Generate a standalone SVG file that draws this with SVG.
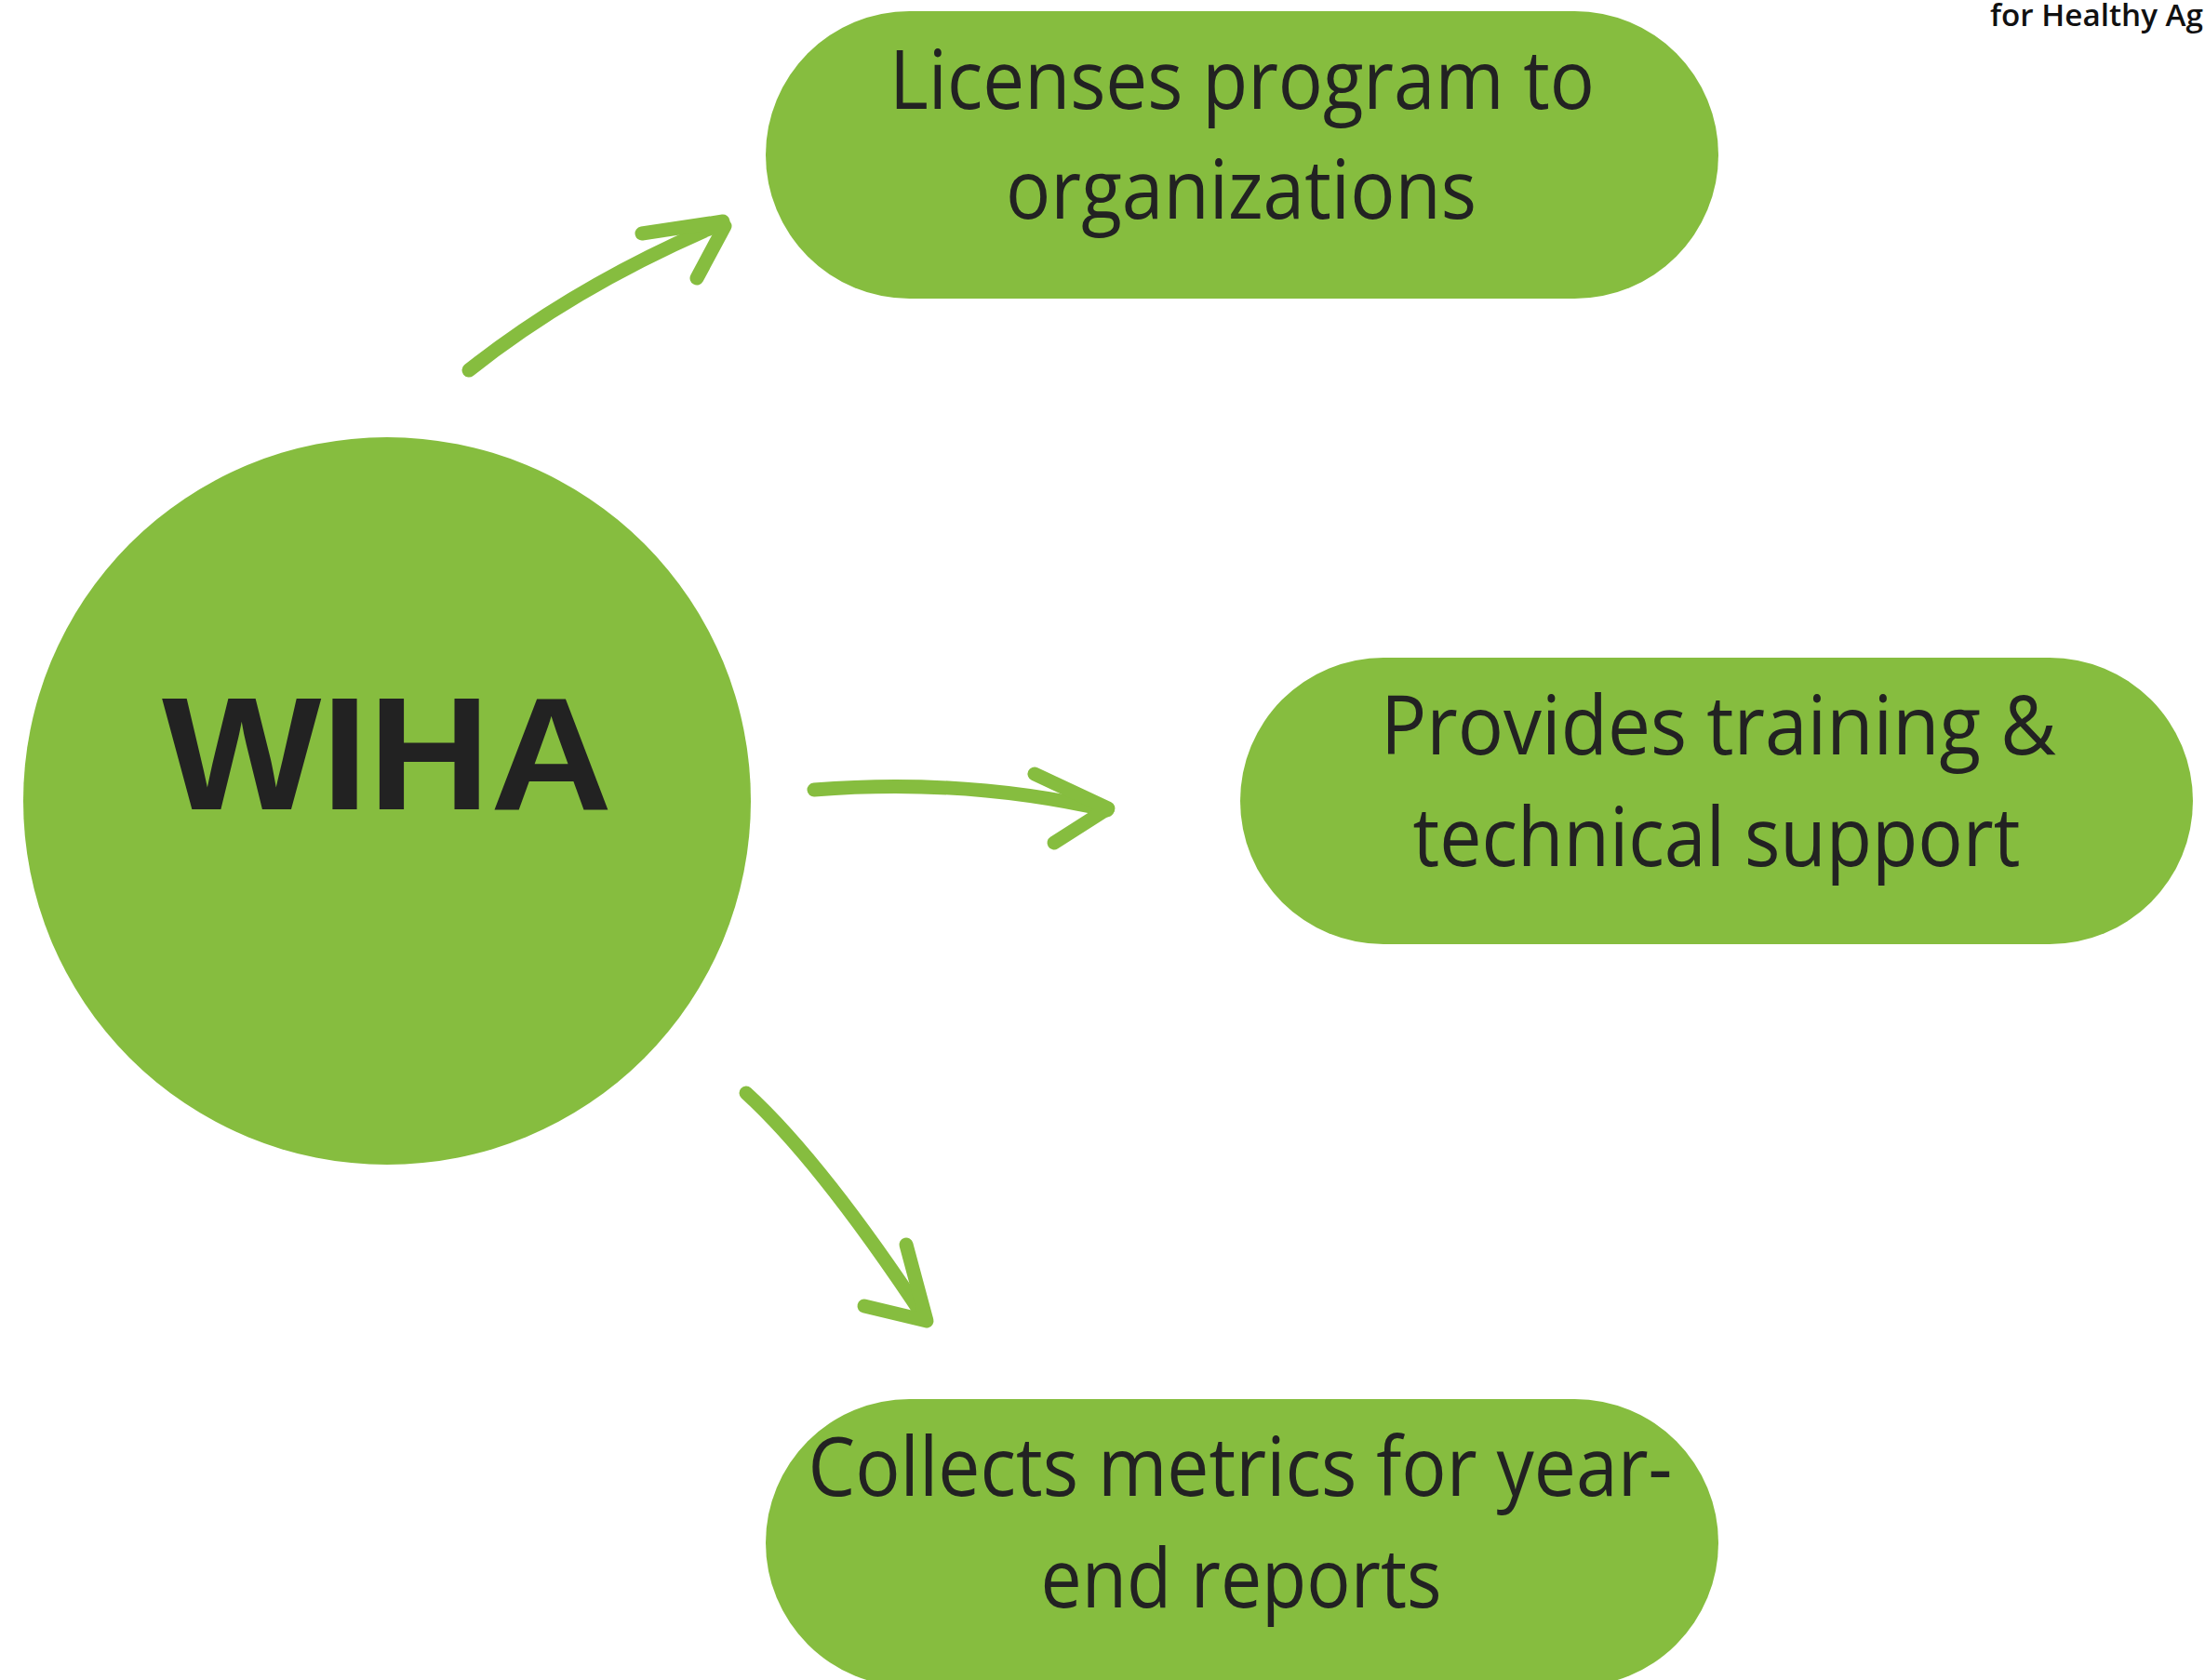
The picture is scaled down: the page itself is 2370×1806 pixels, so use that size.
<svg xmlns="http://www.w3.org/2000/svg" width="2370" height="1806" viewBox="0 0 2370 1806">
  <style>
    .shape { fill: #86bd3f; }
    .label { font-family: "Open Sans", "Noto Sans", "Liberation Sans", sans-serif; font-size: 87px; fill: #222222; text-anchor: middle; }
    .hub { font-family: "Liberation Sans", Arial, sans-serif; font-weight: bold; font-size: 173px; fill: #222222; text-anchor: middle; }
    .stroke { fill: none; stroke: #86bd3f; stroke-width: 15; stroke-linecap: round; stroke-linejoin: round; }
    .corner { font-family: "Open Sans", "Liberation Sans", sans-serif; font-weight: 600; font-size: 32px; fill: #111111; }
  </style>

  <rect width="2370" height="1806" fill="#ffffff"/>

  <text class="corner" x="2139" y="28" textLength="229" lengthAdjust="spacingAndGlyphs">for Healthy Ag</text>

  <!-- central hub -->
  <g id="wiha">
    <circle class="shape" cx="416" cy="861" r="391"/>
    <text class="hub" x="416" y="870" textLength="484" lengthAdjust="spacingAndGlyphs">WIHA</text>
  </g>

  <!-- outcome pills -->
  <g id="licenses">
    <rect class="shape" x="823" y="12" width="1024" height="309" rx="154.5" ry="154.5"/>
    <text class="label" x="1335" y="117" textLength="758" lengthAdjust="spacingAndGlyphs">Licenses program to</text>
    <text class="label" x="1334" y="235" textLength="506" lengthAdjust="spacingAndGlyphs">organizations</text>
  </g>

  <g id="training">
    <rect class="shape" x="1333" y="707" width="1024" height="308" rx="154" ry="154"/>
    <text class="label" x="1847" y="811" textLength="726" lengthAdjust="spacingAndGlyphs">Provides training &amp;</text>
    <text class="label" x="1845" y="931" textLength="653" lengthAdjust="spacingAndGlyphs">technical support</text>
  </g>

  <g id="metrics">
    <rect class="shape" x="823" y="1504" width="1024" height="309" rx="154.5" ry="154.5"/>
    <text class="label" x="1333" y="1608" textLength="929" lengthAdjust="spacingAndGlyphs">Collects metrics for year-</text>
    <text class="label" x="1334" y="1728" textLength="431" lengthAdjust="spacingAndGlyphs">end reports</text>
  </g>

  <!-- hand-drawn connectors -->
  <g id="connectors">
    <path class="stroke" d="M504,398 Q620,306 776,240"/>
    <path class="stroke" d="M690,251 L777,238 M779,243 L749,299"/>

    <path class="stroke" d="M875,849 Q1037,836 1190,871"/>
    <path class="stroke" d="M1112,832 L1191,869 L1133,906"/>

    <path class="stroke" d="M802,1175 Q882,1248 995,1419"/>
    <path class="stroke" d="M974,1338 L996,1420 L929,1404"/>
  </g>
</svg>
